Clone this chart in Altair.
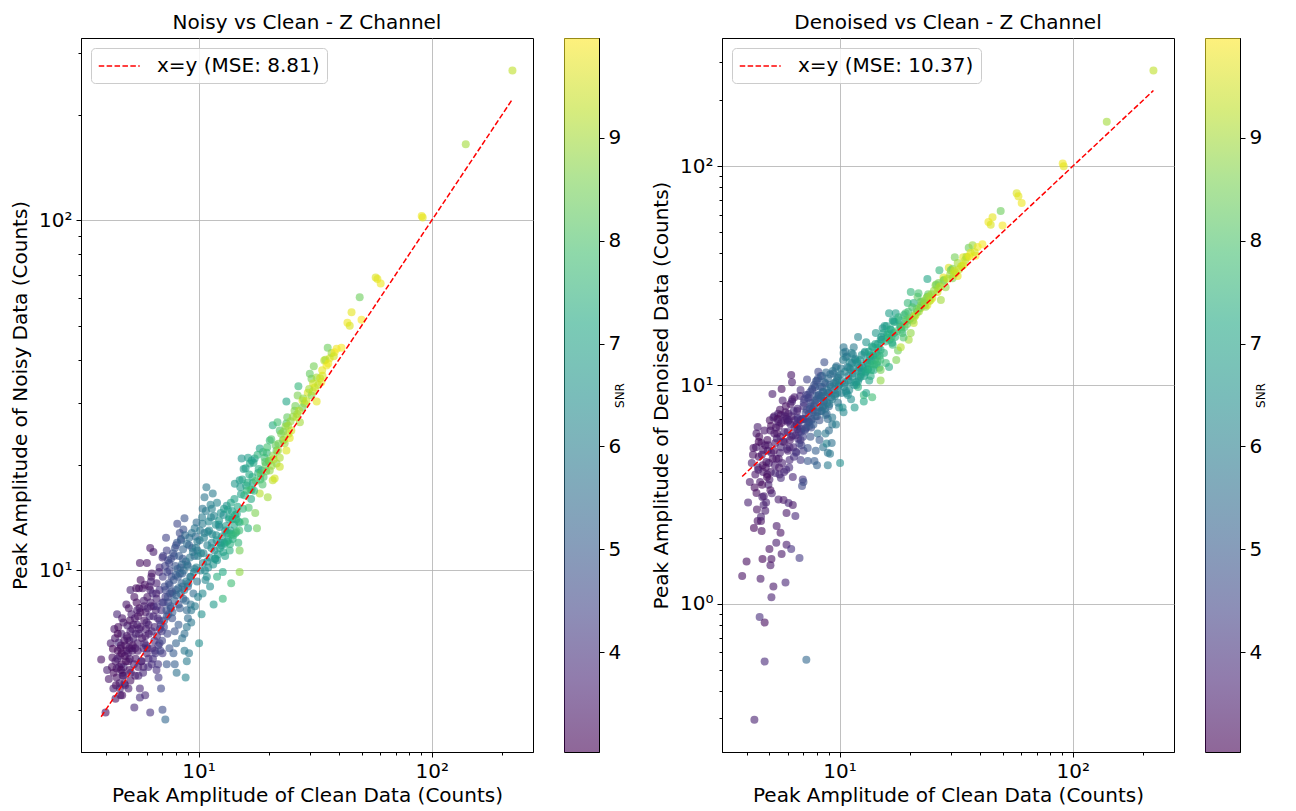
import altair as alt
import pandas as pd

FONT = "DejaVu Sans"

# ---------------- data ----------------
# band A: clean 3.8 - 5.2
clean_a = [3.82, 3.99, 4.05, 4.12, 4.2, 4.27, 4.29, 4.31, 4.35, 4.4,
           4.45, 4.45, 4.47, 4.5, 4.54, 4.58, 4.6, 4.62, 4.63, 4.66,
           4.67, 4.7, 4.7, 4.72, 4.77, 4.77, 4.8, 4.85, 4.9, 4.9,
           4.95, 5.0, 5.0, 5.05, 5.05, 5.1, 5.1, 5.1, 4.4, 4.25,
           4.32, 4.38, 4.42, 4.48, 4.52, 4.56, 4.6, 4.64, 4.68, 4.73,
           4.76, 4.8, 4.84, 4.88, 4.92, 4.97, 5.02, 5.07, 5.12, 5.16,
           4.5, 4.65, 4.82, 4.95, 5.08]
snr_a = [3.3, 3.2, 3.6, 3.4, 3.5, 3.3, 3.1, 3.6, 3.4, 3.2,
         3.5, 3.3, 3.7, 3.2, 3.9, 3.4, 3.3, 3.5, 3.2, 3.6,
         3.1, 3.4, 3.3, 3.6, 3.8, 3.2, 3.5, 3.3, 3.4, 3.2,
         3.6, 3.3, 3.5, 3.4, 3.2, 3.6, 3.3, 3.5, 3.4, 3.3,
         3.2, 3.4, 3.3, 3.5, 3.2, 3.4, 3.6, 3.3, 3.2, 3.5,
         3.4, 3.3, 3.6, 3.2, 3.4, 3.5, 3.3, 3.4, 3.6, 3.3,
         3.1, 3.2, 3.3, 3.4, 3.2]
noisy_a = [5.57, 3.93, 5.2, 4.9, 6.2, 5.64, 5.98, 4.6, 6.8, 4.3,
           5.25, 4.95, 7.5, 5.9, 6.23, 4.76, 5.7, 4.4, 6.0, 6.6,
           5.4, 7.3, 4.4, 5.1, 5.3, 5.0, 4.75, 6.1, 8.0, 5.9,
           6.96, 5.5, 4.6, 6.3, 5.2, 8.8, 4.85, 6.7, 5.5, 5.3,
           5.1, 6.4, 4.7, 5.6, 6.9, 5.3, 4.6, 6.1, 5.8, 5.0,
           7.1, 6.3, 4.7, 5.5, 6.5, 5.8, 7.8, 5.6, 5.1, 6.0,
           6.6, 5.2, 5.7, 6.4, 7.2]
den_a = [1.34, 1.56, 2.9, 3.6, 4.4, 5.16, 2.22, 0.295, 3.9, 3.21,
         6.43, 2.39, 4.2, 4.7, 0.87, 1.30, 2.39, 5.43, 2.15, 3.08,
         1.6, 4.0, 5.05, 2.83, 0.544, 0.82, 2.66, 4.45, 3.9, 5.6,
         3.5, 1.78, 3.7, 1.5, 3.3, 1.07, 1.6, 4.9, 6.0, 4.8,
         3.4, 5.2, 2.7, 4.1, 5.8, 3.6, 2.5, 4.8, 4.3, 3.1,
         6.2, 5.3, 2.9, 3.8, 5.0, 4.4, 6.9, 4.0, 3.2, 4.6,
         5.5, 3.5, 4.2, 5.3, 6.5]

# band B: clean 5.2 - 7
clean_b = [5.15, 5.2, 5.25, 5.3, 5.3, 5.35, 5.37, 5.4, 5.45, 5.47,
           5.5, 5.55, 5.58, 5.6, 5.6, 5.6, 5.64, 5.64, 5.7, 5.75,
           5.8, 5.85, 5.86, 5.9, 5.92, 5.92, 6.0, 6.0, 6.04, 6.1,
           6.1, 6.2, 6.2, 6.2, 6.25, 6.3, 6.3, 6.3, 6.4, 6.46,
           6.5, 6.55, 6.6, 6.6, 6.6, 6.7, 6.73, 6.8, 6.8, 6.8,
           6.8, 6.9, 6.95, 7.0, 7.0, 7.0, 7.0, 5.2, 5.5, 5.95,
           6.15, 5.8, 6.4, 5.35, 5.05,
           5.22, 5.28, 5.33, 5.38, 5.42, 5.48, 5.52, 5.57, 5.62, 5.67,
           5.72, 5.78, 5.83, 5.88, 5.94, 5.98, 6.03, 6.08, 6.12, 6.17,
           6.22, 6.27, 6.33, 6.37, 6.42, 6.48, 6.52, 6.58, 6.63, 6.68,
           6.72, 6.77, 6.82, 6.86, 6.92, 6.97, 5.25, 5.55, 5.82, 6.05,
           6.35, 6.62, 6.88, 5.45, 6.25]
snr_b = [3.5, 3.4, 3.6, 3.8, 3.3, 3.5, 3.4, 3.2, 3.6, 3.5,
         3.4, 3.6, 3.3, 3.9, 3.3, 3.7, 3.4, 3.2, 3.5, 3.4,
         3.6, 3.3, 3.7, 3.8, 3.5, 3.4, 3.3, 3.6, 3.7, 3.8,
         3.5, 3.4, 4.0, 3.6, 3.5, 3.7, 3.9, 3.4, 3.5, 3.8,
         3.9, 3.6, 4.0, 3.6, 3.7, 4.1, 4.2, 3.9, 4.2, 3.8,
         4.0, 4.5, 4.1, 4.6, 3.9, 4.2, 4.0, 3.5, 3.3, 3.5,
         3.4, 3.6, 3.7, 3.4, 3.4,
         3.3, 3.5, 3.4, 3.6, 3.2, 3.4, 3.7, 3.5, 3.3, 3.6,
         3.4, 3.8, 3.5, 3.3, 3.7, 3.6, 3.4, 3.9, 3.5, 3.7,
         3.6, 3.4, 3.8, 4.0, 3.5, 3.7, 4.1, 3.6, 3.9, 3.8,
         4.2, 3.7, 4.1, 4.3, 3.9, 4.4, 3.4, 3.3, 3.5, 3.6,
         3.8, 4.0, 4.2, 3.5, 3.6]
noisy_b = [7.5, 5.9, 6.4, 4.06, 8.4, 6.0, 5.6, 8.9, 7.0, 6.2,
           5.3, 6.6, 7.8, 4.34, 10.5, 4.6, 6.9, 9.4, 5.5, 8.9,
           5.3, 7.2, 6.2, 4.4, 6.5, 7.6, 10.5, 5.8, 6.0, 5.6,
           7.0, 11.6, 3.93, 8.8, 7.9, 6.7, 5.4, 9.8, 11.3, 6.3,
           5.9, 7.7, 5.2, 9.2, 8.3, 5.4, 4.95, 10.2, 6.2, 7.2,
           8.8, 4.6, 6.7, 4.0, 10.9, 5.8, 8.1, 6.8, 7.4, 6.8,
           9.0, 6.0, 7.4, 5.0, 6.0,
           6.1, 5.4, 7.3, 6.6, 8.1, 5.9, 5.0, 6.8, 7.6, 5.5,
           6.4, 5.1, 7.9, 9.1, 6.1, 7.1, 8.4, 5.3, 6.6, 7.4,
           8.1, 9.6, 6.0, 5.6, 7.9, 6.9, 5.8, 8.6, 6.5, 7.3,
           6.1, 9.9, 6.8, 5.9, 7.7, 6.3, 7.0, 8.9, 8.2, 7.8,
           8.6, 7.9, 7.0, 7.7, 9.3]
den_b = [9.1, 1.2, 7.2, 3.96, 5.43, 1.9, 2.27, 6.0, 7.4, 3.0,
         4.2, 4.9, 2.11, 3.76, 7.3, 5.2, 1.69, 9.6, 8.5, 2.98,
         6.1, 7.5, 1.25, 4.1, 1.86, 2.6, 6.8, 5.0, 2.89, 4.54,
         5.2, 11.1, 1.78, 5.8, 10.3, 3.8, 5.9, 2.83, 8.8, 2.52,
         4.95, 6.6, 7.1, 6.3, 7.8, 6.1, 1.62, 9.5, 4.54, 5.6,
         6.9, 3.45, 3.7, 3.6, 8.0, 5.0, 7.0, 7.1, 6.5, 7.0,
         8.2, 5.5, 6.4, 4.6, 6.2,
         5.0, 4.3, 6.4, 5.7, 7.0, 4.6, 3.9, 5.8, 6.7, 4.4,
         5.5, 4.0, 6.9, 8.0, 5.1, 6.1, 7.4, 4.2, 5.6, 6.6,
         7.2, 8.6, 5.2, 4.7, 6.9, 5.9, 4.9, 7.6, 5.7, 6.5,
         5.4, 8.9, 6.1, 5.3, 7.0, 5.8, 6.0, 7.7, 7.2, 6.9,
         7.6, 7.0, 6.3, 6.8, 8.4]

# band C: clean 7 - 10
clean_c = [7.05, 7.1, 7.15, 7.2, 7.2, 7.25, 7.3, 7.3, 7.3, 7.35,
           7.4, 7.45, 7.5, 7.5, 7.55, 7.65, 7.7, 7.8, 7.85, 7.9,
           7.9, 8.0, 8.0, 8.0, 8.05, 8.1, 8.2, 8.2, 8.3, 8.3,
           8.35, 8.4, 8.45, 8.5, 8.55, 8.6, 8.6, 8.7, 8.7, 8.7,
           8.8, 8.9, 8.9, 8.9, 8.95, 9.0, 9.1, 9.1, 9.2, 9.25,
           9.3, 9.3, 9.4, 9.5, 9.6, 9.65, 9.7, 9.8, 9.85, 9.9,
           9.95, 7.6, 8.15, 7.4, 8.8, 9.0, 7.75, 8.5, 9.6, 7.95,
           7.02, 7.08, 7.12, 7.18, 7.22, 7.28, 7.33, 7.38, 7.42, 7.48,
           7.52, 7.58, 7.62, 7.68, 7.72, 7.78, 7.82, 7.88, 7.92, 7.98,
           8.03, 8.08, 8.12, 8.18, 8.25, 8.32, 8.38, 8.42, 8.48, 8.53,
           8.58, 8.64, 8.68, 8.75, 8.82, 8.86, 8.92, 8.98, 9.05, 9.12,
           9.18, 9.28, 9.35, 9.45, 9.55, 9.62, 9.72, 9.78, 9.88, 9.92]
snr_c = [4.3, 4.4, 4.5, 5.3, 4.2, 4.4, 4.3, 4.7, 4.9, 4.5,
         4.4, 4.6, 4.5, 4.8, 4.6, 4.5, 4.7, 5.0, 4.6, 5.1,
         4.8, 4.4, 4.9, 5.2, 5.6, 4.5, 4.8, 5.0, 4.6, 5.0,
         4.7, 4.6, 5.2, 5.6, 4.9, 4.7, 5.1, 5.8, 4.8, 5.5,
         6.1, 5.3, 5.9, 5.7, 5.0, 5.2, 5.8, 5.1, 5.4, 5.6,
         5.8, 5.7, 5.2, 5.5, 5.5, 5.9, 5.4, 5.4, 5.7, 5.6,
         6.0, 4.6, 4.9, 4.5, 5.3, 5.5, 4.7, 5.0, 5.3, 4.8,
         4.2, 4.4, 4.6, 4.3, 4.5, 4.7, 4.4, 4.6, 4.8, 4.5,
         4.7, 4.9, 4.6, 4.8, 5.0, 4.7, 4.9, 5.1, 4.8, 5.0,
         5.2, 4.9, 5.1, 5.3, 5.0, 5.2, 5.4, 5.1, 5.3, 5.5,
         5.2, 5.4, 5.6, 5.3, 5.5, 5.7, 5.4, 5.6, 5.8, 5.5,
         5.7, 5.9, 5.6, 5.8, 6.0, 5.7, 5.9, 6.1, 5.8, 6.0]
noisy_c = [11.0, 6.9, 9.0, 3.75, 8.4, 12.4, 11.4, 7.4, 5.4, 6.6,
           10.7, 9.2, 10.0, 6.0, 8.6, 9.6, 7.3, 5.8, 11.0, 5.4,
           6.7, 11.8, 8.8, 6.2, 5.1, 13.6, 8.0, 7.0, 12.8, 7.8,
           10.2, 12.3, 9.2, 6.4, 10.8, 13.1, 8.3, 5.9, 14.1, 6.6,
           4.95, 7.7, 5.5, 6.9, 10.4, 9.0, 5.8, 11.8, 9.6, 8.0,
           7.1, 7.7, 11.6, 8.6, 10.1, 7.9, 12.5, 13.7, 9.3, 11.4,
           8.4, 7.8, 9.6, 8.1, 8.2, 7.3, 8.6, 9.8, 11.0, 10.3,
           9.6, 8.1, 7.2, 10.3, 8.8, 7.7, 9.9, 8.4, 7.5, 10.5,
           9.1, 7.9, 10.8, 8.7, 7.6, 11.2, 9.4, 8.2, 11.6, 9.7,
           8.5, 12.0, 10.1, 8.9, 11.0, 9.8, 8.6, 12.2, 10.4, 9.0,
           11.5, 10.0, 8.8, 12.6, 10.6, 9.3, 11.9, 10.3, 9.2, 12.4,
           10.9, 9.6, 12.8, 11.3, 9.9, 13.2, 11.6, 10.2, 12.1, 11.0]
den_c = [8.6, 6.2, 7.45, 0.555, 6.4, 10.6, 9.0, 5.16, 4.5, 6.8,
         8.8, 7.8, 8.3, 5.8, 6.4, 9.5, 7.5, 4.5, 9.8, 5.0,
         8.5, 10.5, 7.2, 4.3, 6.0, 11.5, 6.9, 5.6, 11.0, 7.6,
         8.9, 9.8, 7.9, 5.2, 8.4, 12.7, 8.5, 6.0, 10.2, 7.3,
         5.4, 7.0, 4.3, 4.9, 9.2, 8.0, 4.85, 10.0, 8.8, 5.43,
         7.1, 6.6, 11.3, 9.5, 9.1, 6.6, 12.2, 10.8, 8.3, 9.9,
         7.9, 7.0, 9.0, 6.8, 7.4, 6.2, 8.0, 9.3, 10.3, 8.9,
         8.3, 7.0, 6.3, 9.0, 7.7, 6.7, 8.7, 7.4, 6.5, 9.3,
         8.0, 6.9, 9.6, 7.7, 6.6, 10.0, 8.3, 7.2, 10.4, 8.6,
         7.5, 10.7, 9.0, 7.9, 9.8, 8.7, 7.6, 11.0, 9.3, 8.0,
         10.3, 8.9, 7.8, 11.4, 9.5, 8.3, 10.7, 9.2, 8.2, 11.2,
         9.8, 8.6, 11.6, 10.2, 8.9, 12.0, 10.5, 9.2, 11.0, 10.0]

# band D: clean 10 - 15
clean_d = [10.05, 10.1, 10.2, 10.3, 10.4, 10.4, 10.4, 10.5, 10.6, 10.7,
           10.8, 10.9, 11.0, 11.1, 11.2, 11.3, 11.4, 11.5, 11.6, 11.7,
           11.8, 12.0, 12.0, 12.0, 12.2, 12.3, 12.4, 12.5, 12.7, 12.7,
           12.8, 13.0, 13.0, 13.2, 13.2, 13.4, 13.5, 13.6, 13.8, 13.9,
           14.0, 14.2, 14.3, 14.4, 14.6, 14.8, 15.0, 15.0, 15.0, 15.0,
           10.9, 11.9, 12.9, 13.7, 14.5,
           10.15, 10.25, 10.35, 10.45, 10.55, 10.65, 10.75, 10.85, 10.95, 11.05,
           11.15, 11.25, 11.35, 11.45, 11.55, 11.65, 11.75, 11.85, 11.95, 12.1,
           12.25, 12.35, 12.45, 12.6, 12.75, 12.85, 12.95, 13.1, 13.25, 13.35,
           13.45, 13.55, 13.65, 13.75, 13.85, 13.95, 14.1, 14.25, 14.35, 14.55,
           14.7, 14.85, 14.95, 10.6, 11.4]
snr_d = [6.4, 5.8, 6.0, 6.5, 5.7, 5.9, 6.3, 6.0, 5.9, 6.2,
         5.8, 6.1, 6.3, 6.1, 6.4, 6.0, 6.2, 5.9, 6.8, 6.3,
         6.5, 6.1, 6.6, 7.4, 6.4, 6.3, 6.6, 6.5, 7.2, 7.6,
         6.4, 6.6, 7.0, 6.5, 6.9, 7.0, 6.8, 7.3, 7.8, 6.9,
         7.3, 7.1, 6.7, 7.4, 6.9, 7.6, 7.4, 8.5, 8.8, 6.8,
         6.0, 6.4, 6.7, 6.9, 7.1,
         5.8, 6.1, 5.9, 6.2, 6.0, 6.3, 5.9, 6.4, 6.1, 6.2,
         6.5, 6.0, 6.4, 6.3, 6.6, 6.2, 6.7, 6.4, 6.5, 6.8,
         6.6, 6.9, 6.5, 6.8, 7.0, 6.7, 7.1, 6.8, 7.2, 6.9,
         7.3, 7.0, 7.4, 7.1, 7.5, 7.2, 7.6, 7.0, 7.3, 7.7,
         7.2, 7.5, 7.8, 5.7, 6.0]
noisy_d = [6.2, 12.2, 10.0, 7.5, 15.0, 13.6, 8.6, 11.2, 12.8, 9.4,
           17.3, 10.6, 10.2, 13.0, 9.0, 14.2, 12.0, 16.6, 8.0, 11.4,
           10.8, 15.6, 10.7, 9.6, 13.5, 13.3, 12.0, 11.8, 9.9, 8.3,
           14.4, 13.0, 11.0, 15.3, 12.8, 12.2, 14.0, 11.4, 9.2, 14.8,
           12.3, 13.5, 17.7, 12.8, 14.5, 12.0, 13.7, 11.4, 9.9, 18.1,
           11.8, 12.6, 12.0, 13.0, 14.0,
           13.0, 11.2, 14.2, 10.5, 12.4, 10.0, 14.8, 9.6, 12.9, 13.8,
           10.9, 15.4, 11.6, 12.7, 10.4, 14.3, 10.8, 13.5, 12.2, 11.1,
           13.9, 11.6, 14.6, 12.5, 11.3, 15.0, 11.9, 13.4, 12.1, 14.9,
           12.8, 14.2, 11.9, 15.6, 12.7, 14.0, 12.6, 16.0, 14.4, 12.9,
           15.2, 13.8, 13.0, 16.2, 15.0]
den_d = [4.4, 11.2, 9.2, 7.9, 14.9, 14.0, 7.5, 10.2, 13.4, 9.2,
         12.1, 10.5, 9.5, 11.8, 8.6, 12.6, 11.3, 14.9, 7.9, 13.0,
         10.0, 16.6, 10.4, 9.8, 12.0, 10.9, 11.5, 12.2, 8.4, 9.0,
         14.0, 15.7, 9.2, 12.6, 11.8, 10.5, 13.5, 11.0, 8.8, 14.9,
         11.7, 13.0, 17.3, 12.4, 15.4, 12.0, 14.5, 11.7, 10.5, 16.1,
         11.0, 12.8, 11.4, 12.9, 13.6,
         11.9, 10.4, 13.0, 9.8, 11.5, 9.4, 13.5, 9.0, 12.0, 12.7,
         10.3, 14.0, 10.9, 11.9, 10.0, 13.2, 10.3, 12.6, 11.6, 10.7,
         13.0, 11.2, 13.7, 12.0, 11.0, 14.2, 11.6, 12.9, 11.8, 14.2,
         12.5, 13.7, 11.7, 15.0, 12.5, 13.6, 12.4, 15.4, 14.0, 12.8,
         14.8, 13.6, 13.0, 14.2, 13.8]

# band E: clean 15 - 25
clean_e = [15.2, 15.3, 15.5, 15.8, 16.0, 16.3, 16.3, 16.4, 16.6, 16.9,
           17.1, 17.4, 17.5, 17.8, 18.0, 18.3, 18.3, 18.6, 19.0, 19.2,
           19.6, 19.8, 20.0, 20.2, 20.2, 20.8, 20.8, 21.2, 21.6, 21.6,
           21.8, 22.3, 22.3, 22.3, 23.0, 23.4, 23.8, 23.8, 23.8, 24.0,
           24.6, 25.0, 15.6, 17.0, 18.8, 16.8, 19.4,
           15.4, 15.7, 15.9, 16.1, 16.5, 16.7, 17.2, 17.6, 17.9, 18.1,
           18.5, 18.9, 19.3, 19.7, 20.1, 20.5, 20.9, 21.4, 21.9, 22.6,
           23.2, 23.6, 24.3, 24.8, 15.1, 16.2, 17.3, 18.4, 19.5, 20.6,
           21.0, 22.0, 23.1, 24.2, 16.9]
snr_e = [7.0, 6.6, 7.5, 7.8, 7.2, 6.9, 7.3, 7.9, 7.1, 7.7,
         7.0, 6.9, 8.6, 8.4, 7.5, 7.0, 9.2, 7.6, 8.0, 7.8,
         7.7, 9.0, 7.9, 8.8, 7.6, 9.3, 7.3, 9.5, 8.8, 8.2,
         7.9, 9.4, 9.1, 8.0, 8.6, 8.9, 9.6, 7.1, 8.1, 8.3,
         9.7, 9.5, 6.8, 7.4, 8.0, 7.2, 8.3,
         7.0, 7.4, 6.9, 7.6, 7.2, 7.8, 7.1, 8.0, 7.5, 7.3,
         8.2, 7.7, 8.1, 7.9, 8.5, 8.0, 8.7, 8.3, 9.0, 8.6,
         9.1, 8.8, 9.3, 8.9, 6.8, 7.3, 7.5, 7.9, 8.4, 8.9,
         9.2, 8.5, 8.7, 9.0, 6.9]
noisy_e = [16.5, 20.9, 15.0, 13.8, 17.5, 21.0, 13.2, 15.1, 20.2, 17.0,
           17.8, 20.9, 14.6, 13.2, 19.0, 22.3, 16.6, 19.3, 18.5, 21.0,
           21.7, 16.2, 20.5, 19.3, 23.5, 18.1, 26.0, 18.3, 20.2, 22.0,
           26.5, 19.8, 21.0, 25.1, 23.6, 23.1, 22.0, 30.4, 26.3, 27.4,
           23.9, 25.1, 19.5, 18.5, 17.6, 16.0, 20.0,
           18.2, 16.4, 19.6, 16.9, 18.8, 17.0, 20.3, 18.0, 21.4, 19.5,
           18.9, 21.8, 20.4, 22.5, 20.6, 23.7, 21.3, 22.8, 22.0, 24.6,
           23.6, 25.8, 24.6, 26.7, 17.3, 17.8, 16.9, 18.2, 19.2, 19.9,
           20.8, 23.0, 24.9, 25.9, 20.6]
den_e = [16.1, 18.2, 14.0, 12.6, 17.0, 21.3, 12.1, 16.1, 17.9, 15.3,
         17.3, 21.3, 13.0, 14.4, 19.8, 18.4, 14.9, 17.3, 18.4, 21.3,
         23.7, 16.1, 20.0, 17.3, 26.6, 19.2, 23.7, 20.9, 21.6, 25.3,
         26.3, 22.5, 23.0, 24.0, 23.7, 22.8, 23.2, 30.5, 25.3, 26.0,
         24.5, 25.0, 18.6, 19.5, 16.5, 15.6, 19.6,
         17.3, 15.8, 18.6, 16.4, 18.0, 16.6, 19.4, 17.6, 20.4, 18.8,
         18.5, 20.9, 19.9, 21.6, 20.2, 22.7, 20.9, 22.2, 21.7, 23.9,
         23.2, 25.0, 24.2, 26.0, 16.6, 17.2, 16.6, 17.9, 19.0, 19.7,
         20.6, 22.5, 24.3, 25.4, 19.8]

# band F: clean 25 - 42
clean_f = [25.8, 26.3, 26.6, 26.8, 27.2, 27.9, 27.9, 29.4, 30.0, 30.5,
           30.5, 31.2, 31.5, 32.1, 32.1, 33.6, 33.9, 34.6, 35.4, 35.8,
           36.5, 37.2, 39.1, 41.0, 28.5, 38.3,
           25.4, 26.0, 27.0, 28.1, 29.0, 29.8, 31.0, 32.6, 34.0, 35.0,
           36.0, 38.0, 26.5, 30.9, 33.2]
snr_f = [8.7, 9.5, 8.6, 7.6, 9.0, 9.7, 8.4, 9.6, 8.3, 8.7,
         8.5, 8.5, 9.6, 9.7, 9.0, 9.8, 9.7, 9.2, 9.8, 8.4,
         9.7, 8.9, 9.8, 9.9, 8.9, 9.9,
         8.9, 8.5, 9.2, 8.8, 9.4, 9.0, 9.5, 9.3, 9.6, 9.1,
         9.8, 9.5, 9.0, 9.3, 9.4]
noisy_f = [28.6, 27.4, 31.6, 33.6, 26.5, 30.6, 29.2, 32.2, 36.5, 31.6,
           35.3, 38.3, 33.3, 30.4, 35.6, 34.5, 37.3, 39.8, 38.5, 43.3,
           40.4, 41.8, 43.0, 43.3, 30.0, 42.0,
           27.5, 29.5, 28.6, 31.0, 30.5, 33.0, 34.2, 33.9, 36.0, 40.0,
           39.0, 40.9, 28.0, 32.5, 35.4]
den_f = [28.6, 26.6, 29.3, 33.5, 24.5, 31.0, 30.0, 34.4, 33.5, 30.8,
         34.0, 38.4, 32.5, 31.5, 36.1, 35.0, 38.4, 37.3, 38.4, 42.4,
         40.2, 43.6, 42.8, 44.0, 28.0, 39.0,
         27.0, 28.8, 28.2, 30.3, 30.6, 32.0, 33.4, 33.8, 35.5, 38.6,
         38.8, 40.5, 27.6, 32.0, 34.8]

# band G: the brightest peaks
clean_g = [222, 140, 90.6, 91.5, 57.5, 58.5, 60.4, 49.1, 45.3, 43.5, 50.0, 44.5]
snr_g = [9.3, 9.0, 9.8, 9.7, 9.6, 9.7, 9.8, 8.4, 9.7, 9.8, 9.9, 9.6]
noisy_g = [268, 165, 103, 102, 68.7, 68.0, 66.0, 60.3, 54.7, 51.0, 52.0, 50.0]
den_g = [274, 160, 103, 100, 75.3, 73.0, 68.0, 62.4, 58.5, 55.7, 53.6, 54.0]

clean = clean_a + clean_b + clean_c + clean_d + clean_e + clean_f + clean_g
snr = snr_a + snr_b + snr_c + snr_d + snr_e + snr_f + snr_g
noisy = noisy_a + noisy_b + noisy_c + noisy_d + noisy_e + noisy_f + noisy_g
denoised = den_a + den_b + den_c + den_d + den_e + den_f + den_g

mse_labels = ["x=y (MSE: 8.81)", "x=y (MSE: 10.37)"]
panel_titles = ["Noisy vs Clean - Z Channel", "Denoised vs Clean - Z Channel"]
y_titles = ["Peak Amplitude of Noisy Data (Counts)", "Peak Amplitude of Denoised Data (Counts)"]
x_title = "Peak Amplitude of Clean Data (Counts)"
snr_range = [3.03, 9.97]
snr_ticks = [4, 5, 6, 7, 8, 9]

df = pd.DataFrame({"clean": clean, "snr": snr, "noisy": noisy, "denoised": denoised})

# axis extents (matplotlib autoscale with 5% margins in log space)
X_DOMAIN = [3.13, 272]
Y_DOMAINS = [[3.03, 332], [0.21, 386]]

SUP = {1: "\u2070", 10: "\u00b9", 100: "\u00b2"}

VIRIDIS = ["#440154", "#482475", "#414487", "#355f8d", "#2a788e", "#21918c",
           "#22a884", "#44bf70", "#7ad151", "#bddf26", "#fde725"]

PW, PH = 452, 714


def log_axis(title, major, minor, **kw):
    values = sorted(major + minor)
    test = " || ".join(f"datum.value == {m}" for m in major)
    expr = "''"
    for m in major:
        expr = f"datum.value == {m} ? '10{SUP[m]}' : ({expr})"
    return alt.Axis(
        title=title, values=values, labelExpr=expr, labelOverlap=False,
        tickSize={"condition": {"test": test, "value": 5}, "value": 3},
        gridColor={"condition": {"test": test, "value": "#b0b0b0"}, "value": "transparent"},
        gridWidth=0.8, grid=True, labelFlush=False, **kw)


x_minor = [4, 5, 6, 7, 8, 9, 20, 30, 40, 50, 60, 70, 80, 90, 200]
y_minors = [[4, 5, 6, 7, 8, 9, 20, 30, 40, 50, 60, 70, 80, 90, 200, 300],
            [0.3, 0.4, 0.5, 0.6, 0.7, 0.8, 0.9, 2, 3, 4, 5, 6, 7, 8, 9,
             20, 30, 40, 50, 60, 70, 80, 90, 200, 300]]
y_majors = [[10, 100], [1, 10, 100]]
y_cols = ["noisy", "denoised"]


def panel(i):
    xs = alt.Scale(type="log", domain=X_DOMAIN, nice=False, zero=False)
    ys = alt.Scale(type="log", domain=Y_DOMAINS[i], nice=False, zero=False)
    xaxis = log_axis(x_title, [10, 100], x_minor, labelPadding=4, titlePadding=4)
    yaxis = log_axis(y_titles[i], y_majors[i], y_minors[i], labelPadding=4, titlePadding=8)
    pts = alt.Chart(df).mark_circle(size=64, opacity=0.6).encode(
        x=alt.X("clean:Q", scale=xs, axis=xaxis),
        y=alt.Y(f"{y_cols[i]}:Q", scale=ys, axis=yaxis),
        color=alt.Color("snr:Q", scale=alt.Scale(scheme="viridis", domain=snr_range), legend=None),
    )
    line_df = pd.DataFrame({"v": [min(clean), max(clean)], "label": [mse_labels[i]] * 2})
    line = alt.Chart(line_df).mark_line(strokeDash=[5.5, 2.4], strokeWidth=1.5).encode(
        x=alt.X("v:Q", scale=xs, axis=xaxis),
        y=alt.Y("v:Q", scale=ys, axis=yaxis),
        stroke=alt.Stroke("label:N", scale=alt.Scale(domain=[mse_labels[i]], range=["red"]),
                          legend=alt.Legend(title=None, orient="top-left", offset=10,
                                            symbolType="M-1,0H3", symbolSize=420,
                                            symbolStrokeWidth=1.5, symbolDash=[5.5, 2.4],
                                            labelFontSize=20, labelFont=FONT, labelLimit=400,
                                            labelColor="black", labelOffset=37,
                                            fillColor="rgba(255,255,255,0.8)",
                                            strokeColor="#cccccc", cornerRadius=4, padding=7)),
    )
    return alt.layer(pts, line).properties(
        width=PW, height=PH,
        title=alt.TitleParams(panel_titles[i], fontSize=20, font=FONT, fontWeight="normal",
                              anchor="middle", offset=5),
    )


def colorbar():
    cb = pd.DataFrame({"lo": [snr_range[0]], "hi": [snr_range[1]]})
    grad = alt.LinearGradient(
        gradient="linear", x1=0, x2=0, y1=1, y2=0,
        stops=[alt.GradientStop(offset=k / 10, color=c) for k, c in enumerate(VIRIDIS)])
    return alt.Chart(cb).mark_rect(fill=grad, opacity=0.6).encode(
        y=alt.Y("lo:Q", scale=alt.Scale(domain=snr_range, nice=False, zero=False),
                axis=alt.Axis(orient="right", values=snr_ticks, title="SNR", titleFontSize=12,
                              titleAngle=270, titlePadding=6, tickSize=5, labelPadding=4,
                              grid=False, format="d")),
        y2="hi:Q",
    ).properties(width=35, height=PH,
                 title=alt.TitleParams(" ", fontSize=20, font=FONT, offset=5))


left = alt.hconcat(panel(0), colorbar(), spacing=29)
right = alt.hconcat(panel(1), colorbar(), spacing=29)
chart = alt.hconcat(left, right, spacing=24).resolve_scale(
    color="independent", stroke="independent"
).properties(padding={"left": 2, "top": 4, "right": 0, "bottom": 0}).configure(
    font=FONT
).configure_view(
    stroke="black", strokeWidth=1
).configure_axis(
    domainColor="black", tickColor="black", labelColor="black", titleColor="black",
    labelFont=FONT, titleFont=FONT, labelFontSize=20, titleFontSize=20,
    titleFontWeight="normal", domainWidth=1, tickWidth=1
).configure_title(color="black")

chart.save("out.html", embed_options={"renderer": "svg", "actions": False})
